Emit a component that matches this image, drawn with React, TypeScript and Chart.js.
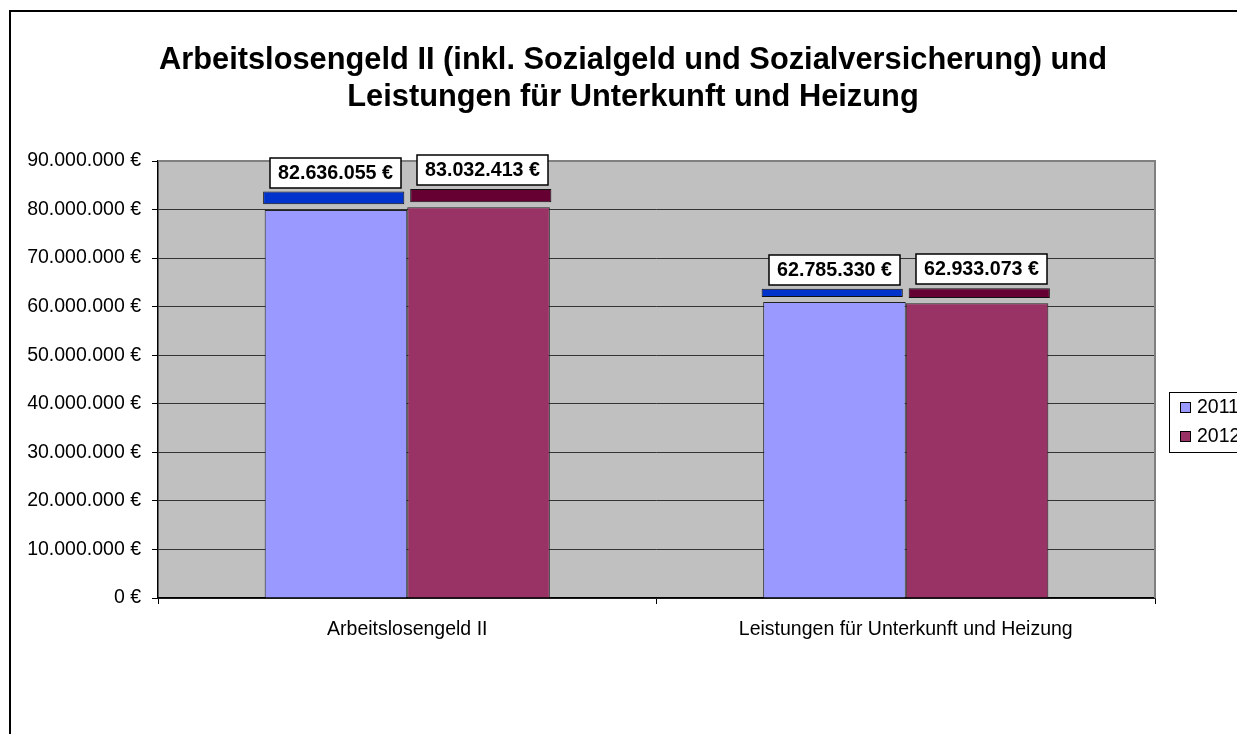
import React, { useEffect, useRef } from "react";
import { Chart, registerables } from "chart.js";

Chart.register(...registerables);

const categories = ["Arbeitslosengeld II", "Leistungen für Unterkunft und Heizung"];
const seriesNames = ["2011", "2012"];
// values shown in the labels
const values2011 = [82636055, 62785330];
const values2012 = [83032413, 62933073];
// visible front faces of the columns, as drawn
const face2011 = [79900000, 60950000];
const face2012 = [80450000, 60700000];
// separated top caps of the columns (floating ranges)
const cap2011: [number, number][] = [[81100000, 83700000], [62000000, 63700000]];
const cap2012: [number, number][] = [[81500000, 84250000], [61800000, 63800000]];
const titleLines = [
  "Arbeitslosengeld II (inkl. Sozialgeld und Sozialversicherung) und",
  "Leistungen für Unterkunft und Heizung",
];
const yMin = 0;
const yMax = 90000000;
const yStep = 10000000;

const FONT = "'Liberation Sans', Arial, Helvetica, sans-serif";
const TXT = 19.5;

const fmt = (v: number) =>
  Math.round(v).toString().replace(/\B(?=(\d{3})+(?!\d))/g, ".") + " €";

const plotBgPlugin = {
  id: "plotBg",
  beforeDraw(chart: any) {
    const { ctx, chartArea: a } = chart;
    ctx.save();
    ctx.fillStyle = "#C0C0C0";
    ctx.fillRect(a.left, a.top, a.right - a.left, a.bottom - a.top);
    ctx.restore();
  },
  beforeDatasetsDraw(chart: any) {
    const { ctx, chartArea: a } = chart;
    ctx.save();
    ctx.strokeStyle = "#808080";
    ctx.lineWidth = 2;
    ctx.beginPath();
    ctx.moveTo(a.left, a.top);
    ctx.lineTo(a.right, a.top);
    ctx.lineTo(a.right, a.bottom);
    ctx.stroke();
    ctx.restore();
  },
};

const valueLabelPlugin = {
  id: "valueLabels",
  afterDatasetsDraw(chart: any) {
    const ctx = chart.ctx;
    ctx.save();
    ctx.font = `bold 19.7px ${FONT}`;
    chart.data.datasets.forEach((ds: any, di: number) => {
      if (!ds.labelValues) return;
      const meta = chart.getDatasetMeta(di);
      meta.data.forEach((el: any, i: number) => {
        const text = fmt(ds.labelValues[i]);
        const w = Math.round(ctx.measureText(text).width + 16);
        const h = 30;
        const x = Math.round(el.x - w / 2 + 2);
        const yb = Math.round(el.y - 4);
        ctx.fillStyle = "#fff";
        ctx.fillRect(x, yb - h, w, h);
        ctx.strokeStyle = "#000";
        ctx.lineWidth = 1.5;
        ctx.strokeRect(x, yb - h, w, h);
        ctx.fillStyle = "#000";
        ctx.textAlign = "center";
        ctx.textBaseline = "middle";
        ctx.fillText(text, x + w / 2, yb - h / 2 + 1);
      });
    });
    ctx.restore();
  },
};

const legendPlugin = {
  id: "boxLegend",
  afterDraw(chart: any) {
    const { ctx, chartArea: a } = chart;
    const x0 = a.right + 14;
    const y0 = 392;
    ctx.save();
    ctx.fillStyle = "#fff";
    ctx.fillRect(x0, y0, 200, 60);
    ctx.strokeStyle = "#000";
    ctx.lineWidth = 1;
    ctx.strokeRect(x0 + 0.5, y0 + 0.5, 200, 60);
    ctx.font = `${TXT}px ${FONT}`;
    ctx.textBaseline = "middle";
    ctx.textAlign = "left";
    [0, 1].forEach((di, i) => {
      const ds: any = chart.data.datasets[di];
      const by = y0 + 10 + i * 29;
      ctx.fillStyle = ds.backgroundColor;
      ctx.fillRect(x0 + 11, by, 11, 11);
      ctx.strokeStyle = "#000";
      ctx.strokeRect(x0 + 11.5, by + 0.5, 10, 10);
      ctx.fillStyle = "#000";
      ctx.fillText(ds.label, x0 + 28, by + 6);
    });
    ctx.restore();
  },
};

export default function App() {
  const ref = useRef<HTMLCanvasElement>(null);
  useEffect(() => {
    document.documentElement.style.overflow = "hidden";
    document.body.style.overflow = "hidden";
    const canvas = ref.current!;
    Chart.defaults.font.family = FONT;
    Chart.defaults.color = "#000";
    const chart = new Chart(canvas, {
      type: "bar",
      data: {
        labels: categories,
        datasets: [
          {
            label: seriesNames[0],
            data: face2011,
            backgroundColor: "#9999FF",
            borderColor: "#222",
            borderWidth: 1,
            categoryPercentage: 0.572,
            barPercentage: 1.0,
            stack: "s2011",
          },
          {
            label: seriesNames[1],
            data: face2012,
            backgroundColor: "#993366",
            borderColor: "#222",
            borderWidth: 1,
            categoryPercentage: 0.572,
            barPercentage: 1.0,
            stack: "s2012",
          },
          {
            label: seriesNames[0] + " cap",
            data: cap2011 as any,
            labelValues: values2011,
            backgroundColor: "#0033CC",
            borderColor: "#111",
            borderWidth: 1,
            borderSkipped: false,
            categoryPercentage: 0.59,
            barPercentage: 0.96,
            stack: "s2011",
          } as any,
          {
            label: seriesNames[1] + " cap",
            data: cap2012 as any,
            labelValues: values2012,
            backgroundColor: "#660033",
            borderColor: "#111",
            borderWidth: 1,
            borderSkipped: false,
            categoryPercentage: 0.59,
            barPercentage: 0.96,
            stack: "s2012",
          } as any,
        ],
      },
      options: {
        animation: false,
        responsive: false,
        layout: { padding: 0 },
        plugins: {
          legend: { display: false },
          tooltip: { enabled: false },
          title: {
            display: true,
            text: titleLines,
            color: "#000",
            font: { family: FONT, size: 30.8, weight: "bold", lineHeight: 37 / 30.8 },
            padding: { top: 42.5, bottom: 44.5 },
          },
        },
        scales: {
          x: {
            type: "category",
            offset: true,
            grid: {
              offset: true,
              drawOnChartArea: false,
              tickLength: 6,
              color: "#000",
            },
            border: { color: "#000", width: 1.5 },
            ticks: {
              color: "#000",
              font: { family: FONT, size: TXT },
              padding: 14,
              maxRotation: 0,
              autoSkip: false,
            },
            afterFit: (s: any) => {
              s.height = 136;
            },
          },
          y: {
            stacked: false,
            min: yMin,
            max: yMax,
            ticks: {
              stepSize: yStep,
              callback: (v: any) => fmt(Number(v)),
              color: "#000",
              font: { family: FONT, size: TXT },
              padding: 11,
            },
            grid: {
              color: (c: any) => (c.tick && c.tick.value === yMax ? "#808080" : "#333"),
              tickColor: "#000",
              tickLength: 6,
              lineWidth: 1,
            },
            border: { color: "#000", width: 1.5 },
            afterFit: (s: any) => {
              s.width = 158;
            },
          },
          yRight: {
            type: "linear",
            position: "right",
            display: true,
            grid: { display: false, drawOnChartArea: false, drawTicks: false },
            border: { display: false },
            ticks: { display: false },
            afterFit: (s: any) => {
              s.width = 111;
            },
          },
        },
      } as any,
      plugins: [plotBgPlugin, valueLabelPlugin, legendPlugin],
    });
    return () => chart.destroy();
  }, []);
  return (
    <>
      <div
        style={{
          position: "fixed",
          left: 9,
          top: 10,
          width: 2000,
          height: 2000,
          borderLeft: "2px solid #000",
          borderTop: "2px solid #000",
          background: "#fff",
        }}
      />
      <canvas
        ref={ref}
        width={1266}
        height={734}
        style={{ position: "fixed", left: 0, top: 0, width: 1266, height: 734 }}
      />
    </>
  );
}
